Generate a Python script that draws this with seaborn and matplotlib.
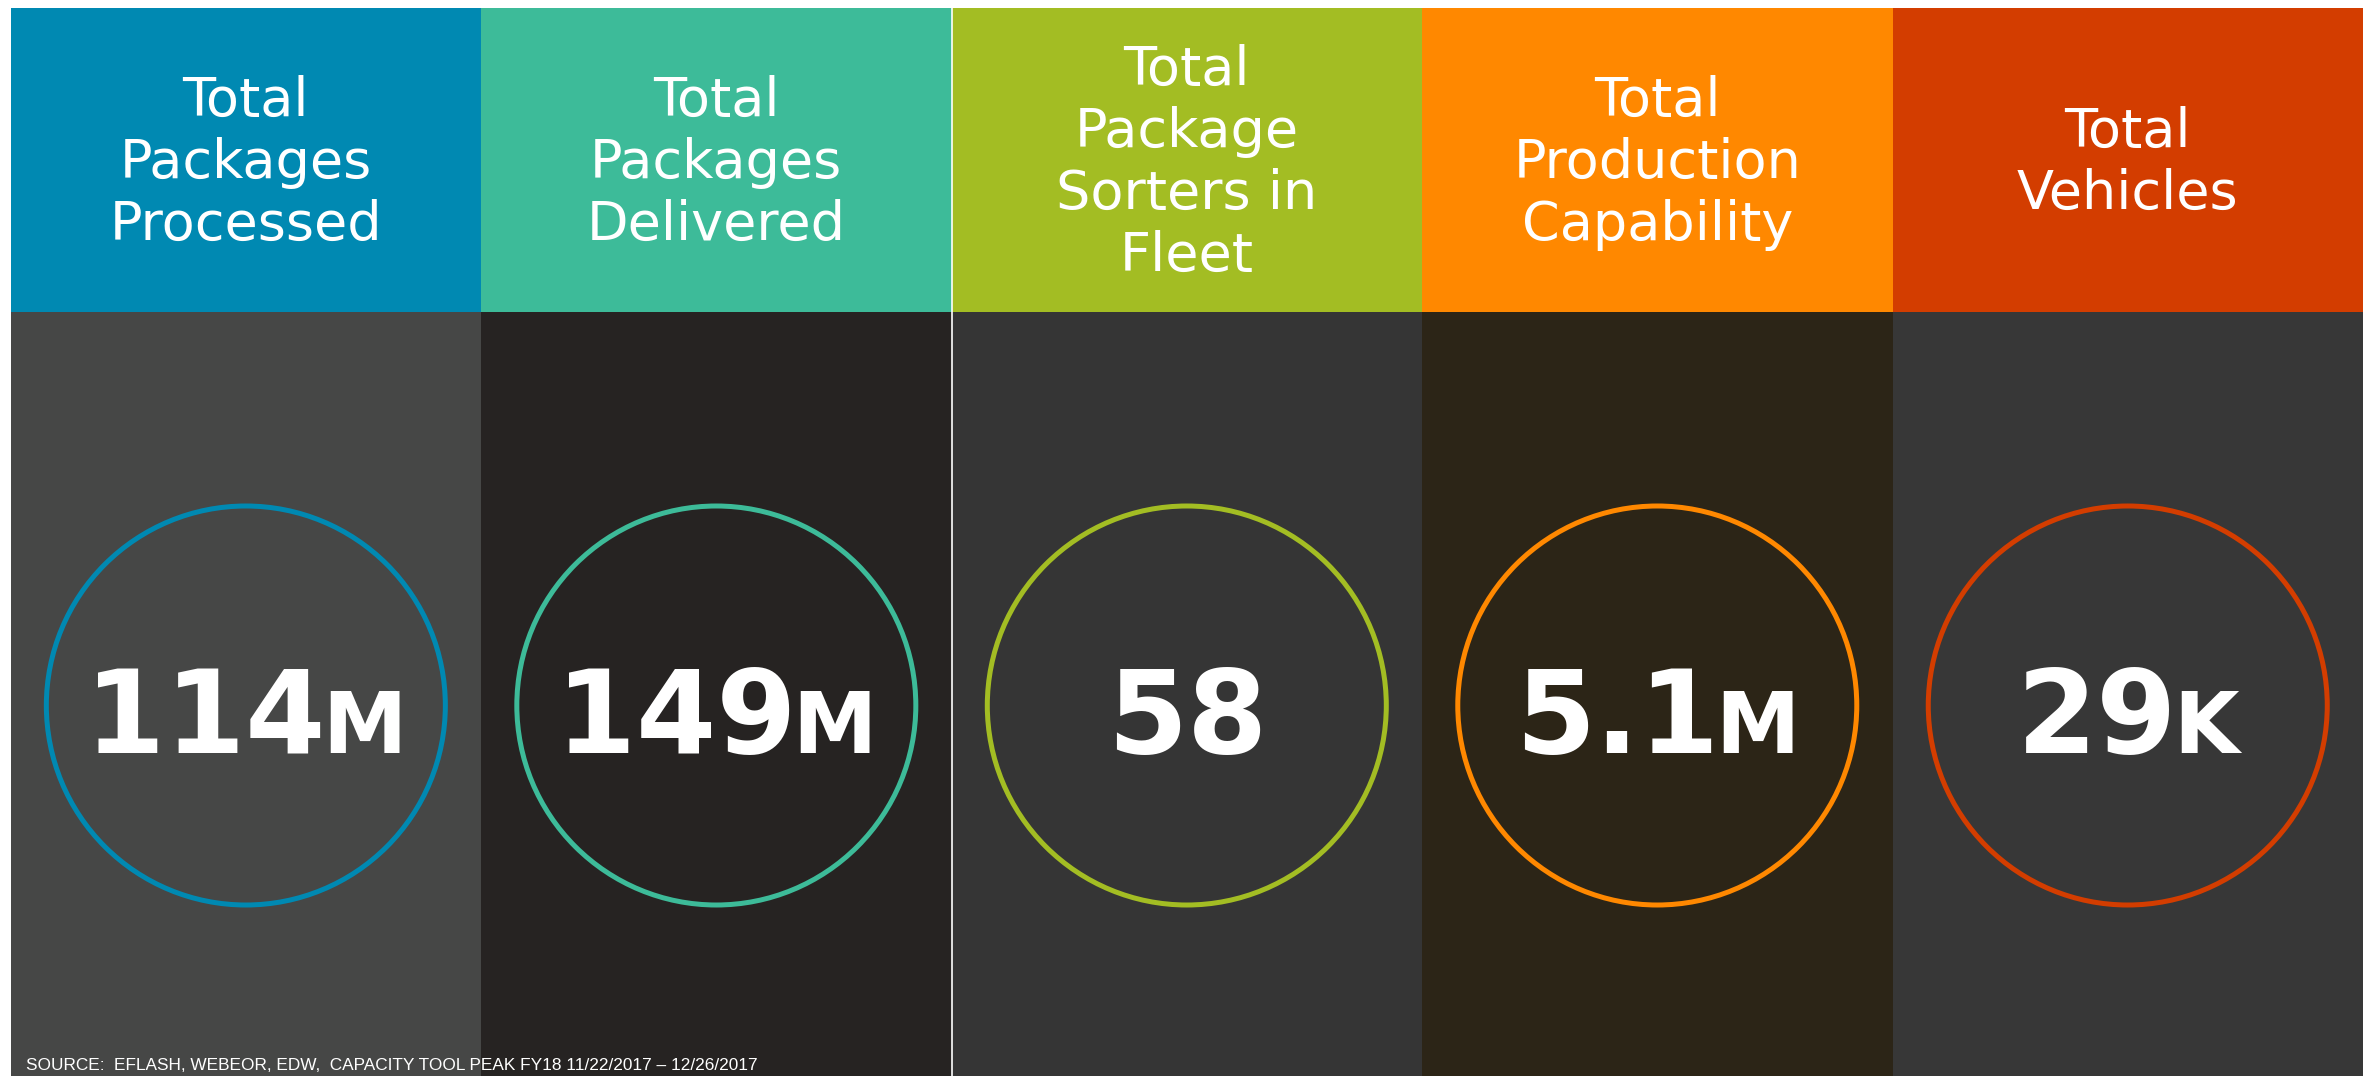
import pandas as pd
import matplotlib.pyplot as plt
import seaborn as sns

# infographic content
titles = ['Total\nPackages\nProcessed', 'Total\nPackages\nDelivered', 'Total\nPackage\nSorters in\nFleet',
          'Total\nProduction\nCapability', 'Total\nVehicles']
numbers = ['114', '149', '58', '5.1', '29']
suffixes = ['M', 'M', '', 'M', 'K']
header_colors = ['#0089B2', '#3DBB99', '#A3BD23', '#FF8800', '#D33D00']
body_colors = ['#464746', '#262322', '#353535', '#2C2517', '#373737']
source = 'SOURCE:  EFLASH, WEBEOR, EDW,  CAPACITY TOOL PEAK FY18 11/22/2017 \u2013 12/26/2017'

W, H = 2374, 1076
sns.set_style('white')
plt.rcParams['font.family'] = ['DejaVu Sans']

fig = plt.figure(figsize=(W / 100, H / 100), dpi=100)
ax = fig.add_axes([10.6 / W, 0, 2352.4 / W, 1 - 7.5 / H])

df = pd.DataFrame({'metric': [f'm{i}' for i in range(len(titles))]})
df['full'] = 1.0
df['body'] = (H - 312) / 1068.5
df['circle'] = (H - 705.5) / 1068.5

# header bars (full height) then body bars on top
sns.barplot(data=df, x='metric', y='full', hue='metric', palette=header_colors,
            width=1, saturation=1, legend=False, ax=ax)
sns.barplot(data=df, x='metric', y='body', hue='metric', palette=body_colors,
            width=1, saturation=1, legend=False, ax=ax)
for p in ax.patches:
    p.set_linewidth(0)

# white divider between panel 2 and 3
ax.axvline(1.5, color='white', lw=1.2)

# ring markers
sns.scatterplot(data=df, x='metric', y='circle', s=(399 * 0.72) ** 2, marker='o',
                facecolor='none', edgecolor=header_colors, linewidth=3.6, ax=ax, zorder=5)
ax.collections[-1].set_facecolor('none')
ax.collections[-1].set_edgecolor(header_colors)

ax.set_xlim(-0.5, len(titles) - 0.5)
ax.set_ylim(0, 1)
ax.axis('off')

# header titles
head_y = (H - 163) / 1068.5
for i, t in enumerate(titles):
    ax.text(i, head_y, t, ha='center', va='center', color='white', fontsize=39,
            linespacing=1.24)

# big numbers with small-caps suffix
num_y = (H - 753) / 1068.5
fig.canvas.draw()
renderer = fig.canvas.get_renderer()
for i, (n, s) in enumerate(zip(numbers, suffixes)):
    t1 = ax.annotate(n, xy=(i, num_y), xytext=(0, 0), textcoords='offset pixels',
                     ha='left', va='baseline', color='white', fontsize=83, fontweight='bold')
    w1 = t1.get_window_extent(renderer).width
    w2, gap = 0, 0
    t2 = None
    if s:
        t2 = ax.annotate(s, xy=(i, num_y), xytext=(0, 0), textcoords='offset pixels',
                         ha='left', va='baseline', color='white', fontsize=61, fontweight='bold')
        w2 = t2.get_window_extent(renderer).width
        gap = -4
    total = w1 + gap + w2
    t1.set_position((-total / 2, 0))
    if t2 is not None:
        t2.set_position((-total / 2 + w1 + gap, 0))

fig.text(26 / W, 1 - 1070 / H, source, ha='left', va='baseline', color='white',
         fontsize=12.4, fontstretch='condensed',
         family=['Liberation Sans Narrow', 'Liberation Sans', 'DejaVu Sans'])

fig.savefig('out.png', dpi=100, facecolor='white')
